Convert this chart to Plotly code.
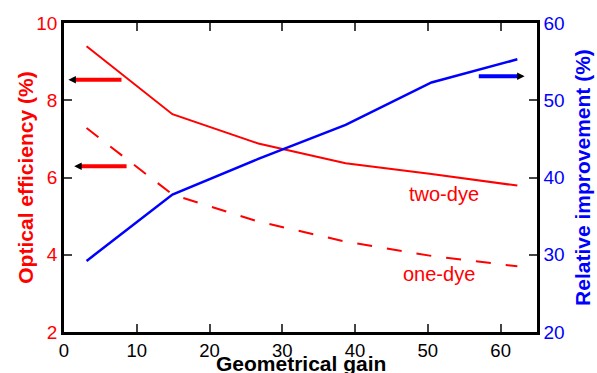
import plotly.graph_objects as go

gain = [3.1, 14.9, 26.7, 38.7, 50.5, 62.3]
two_dye = [9.40, 7.64, 6.88, 6.37, 6.09, 5.79]
one_dye = [7.28, 5.56, 4.86, 4.34, 3.97, 3.70]
improvement = [29.2, 37.8, 42.4, 46.8, 52.3, 55.3]

x_ticks = [0, 10, 20, 30, 40, 50, 60]
y_ticks = [2, 4, 6, 8, 10]
y2_ticks = [20, 30, 40, 50, 60]

RED = "#ff0000"
BLUE = "#0000ff"
FONT = "Liberation Sans, Arial, sans-serif"

fig = go.Figure()
fig.add_trace(go.Scatter(x=gain, y=two_dye, mode="lines", line=dict(color=RED, width=2), name="two-dye"))
fig.add_trace(go.Scatter(x=gain, y=one_dye, mode="lines", line=dict(color=RED, width=2, dash="15px,15px"), name="one-dye"))
fig.add_trace(go.Scatter(x=gain, y=improvement, mode="lines", line=dict(color=BLUE, width=2.5), name="improvement", yaxis="y2"))

# indicator arrows (thick coloured shaft, small black head)
shapes = [
    dict(type="line", xref="x", yref="y", x0=7.9, x1=1.2, y0=8.53, y1=8.53, line=dict(color=RED, width=4)),
    dict(type="line", xref="x", yref="y", x0=8.6, x1=2.0, y0=6.29, y1=6.29, line=dict(color=RED, width=4)),
    dict(type="line", xref="x", yref="y2", x0=57.0, x1=62.5, y0=53.1, y1=53.1, line=dict(color=BLUE, width=4)),
]
annotations = [
    dict(x=0.6, y=8.53, xref="x", yref="y", ax=1.6, ay=8.53, axref="x", ayref="y", showarrow=True,
         arrowhead=2, arrowsize=1, arrowwidth=1.5, arrowcolor="black", text=""),
    dict(x=1.4, y=6.29, xref="x", yref="y", ax=2.4, ay=6.29, axref="x", ayref="y", showarrow=True,
         arrowhead=2, arrowsize=1, arrowwidth=1.5, arrowcolor="black", text=""),
    dict(x=63.3, y=53.1, xref="x", yref="y2", ax=62.2, ay=53.1, axref="x", ayref="y2", showarrow=True,
         arrowhead=2, arrowsize=1, arrowwidth=1.5, arrowcolor="black", text=""),
    dict(x=52.2, y=5.58, xref="x", yref="y", text="two-dye", showarrow=False, font=dict(family=FONT, size=20, color=RED)),
    dict(x=51.6, y=3.49, xref="x", yref="y", text="one-dye", showarrow=False, font=dict(family=FONT, size=20, color=RED)),
    dict(x=0.5, y=-0.058, xref="paper", yref="paper", yanchor="top", text="<b>Geometrical gain</b>", showarrow=False,
         font=dict(family=FONT, size=21, color="black")),
    dict(x=-0.082, y=0.5, xref="paper", yref="paper", xanchor="center", textangle=-90,
         text="<b>Optical efficiency (%)</b>", showarrow=False, font=dict(family=FONT, size=21, color=RED)),
    dict(x=1.096, y=0.5, xref="paper", yref="paper", xanchor="center", textangle=-90,
         text="<b>Relative improvement (%)</b>", showarrow=False, font=dict(family=FONT, size=21, color=BLUE)),
]

fig.update_layout(
    width=597, height=373,
    margin=dict(l=64, r=60, t=23, b=41),
    paper_bgcolor="white", plot_bgcolor="white",
    showlegend=False,
    font=dict(family=FONT),
    shapes=shapes, annotations=annotations,
    xaxis=dict(range=[0, 65], tickvals=x_ticks, ticks="inside", ticklen=8, tickwidth=2,
               showline=True, linewidth=2.5, linecolor="black", mirror="ticks", showgrid=False, zeroline=False,
               tickfont=dict(family=FONT, size=18.5, color="black")),
    yaxis=dict(range=[2, 10], tickvals=y_ticks, ticks="inside", ticklen=8, tickwidth=2,
               showline=True, linewidth=2.5, linecolor="black", showgrid=False, zeroline=False,
               tickfont=dict(family=FONT, size=19, color=RED)),
    yaxis2=dict(range=[20, 60], tickvals=y2_ticks, ticks="inside", ticklen=8, tickwidth=2,
                overlaying="y", side="right", showline=True, linewidth=2.5, linecolor="black", showgrid=False,
                zeroline=False, tickfont=dict(family=FONT, size=19, color=BLUE)),
)

fig.write_html("out.html", config={"displayModeBar": False},
               post_script="document.body.style.margin='0px';")
